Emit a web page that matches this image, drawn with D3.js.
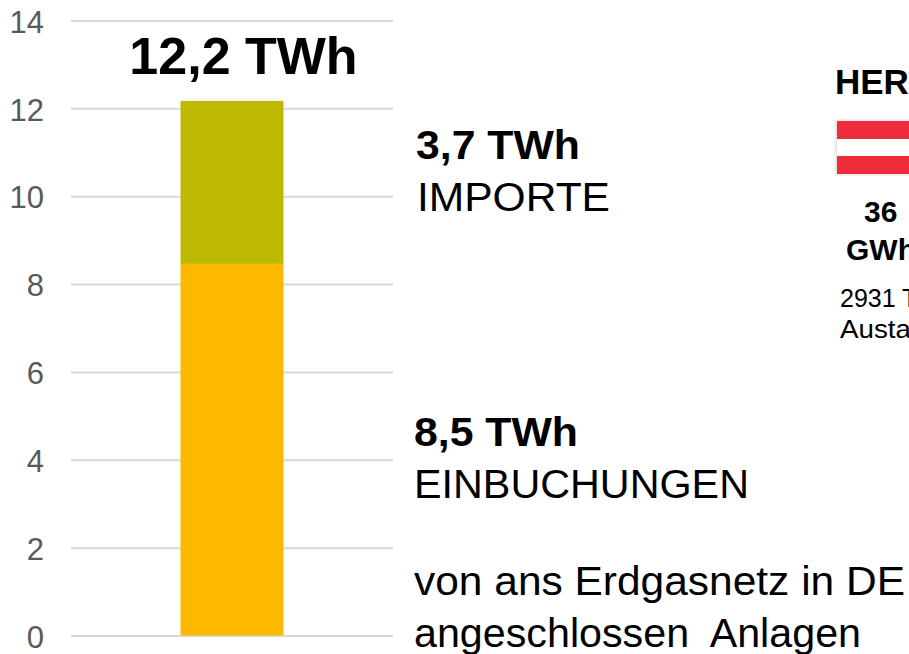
<!DOCTYPE html>
<html><head><meta charset="utf-8">
<script src="https://cdn.jsdelivr.net/npm/d3@7/dist/d3.min.js"></script>
<style>html,body{margin:0;padding:0;background:#fff;overflow:hidden}svg{display:block}text{font-family:"Liberation Sans",Arial,sans-serif}</style>
</head><body><div id="c"></div>
<script>
const yTicks = [0,2,4,6,8,10,12,14];
const categories = ["Gesamt"];
const seriesNames = ["EINBUCHUNGEN","IMPORTE"];
const einbuchungen = [8.46];
const importe = [3.71];
const colors = ["#FDB900","#BDB900"];
const totalLabel = "12,2 TWh";
const noteTexts = ["3,7 TWh","IMPORTE","8,5 TWh","EINBUCHUNGEN","von ans Erdgasnetz in DE","angeschlossen  Anlagen","HER","36","GWh","2931 T","Austa"];
const noteLayout = [
 {x:416,y:159,s:40,b:1,w:164},
 {x:417,y:211,s:40,b:0,w:193},
 {x:414,y:446,s:40,b:1,w:164},
 {x:414,y:498,s:40,b:0,w:335},
 {x:414,y:595,s:40,b:0,w:491},
 {x:414,y:647,s:40,b:0,w:447},
 {x:835,y:94,s:35,b:1},
 {x:864,y:222,s:30,b:1},
 {x:846,y:260,s:30,b:1},
 {x:840,y:307,s:25,b:0},
 {x:840,y:338,s:25,b:0,w:71}
];
const notes = noteTexts.map((t,i)=>({t,...noteLayout[i]}));
const svg = d3.select("#c").append("svg").attr("width",909).attr("height",654);
const defs = svg.append("defs");
defs.append("filter").attr("id","soft").append("feGaussianBlur").attr("stdDeviation",1.2);
const y = d3.scaleLinear().domain([0,14]).range([635.5,20.5]);
const x = d3.scaleBand().domain(categories).range([71,393]).paddingInner(0).paddingOuter(1.063);
const axis = d3.axisLeft(y).tickValues(yTicks).tickSize(-322).tickPadding(27);
const g = svg.append("g").attr("transform","translate(71,0)").call(axis);
g.select(".domain").remove();
g.selectAll(".tick line").attr("stroke","#D9D9D9").attr("stroke-width",2);
g.selectAll(".tick text").attr("fill","#595959").attr("font-size",31).attr("dy","0.38em").attr("font-family","Liberation Sans");
const stack = d3.stack().keys(seriesNames)([{EINBUCHUNGEN:einbuchungen[0],IMPORTE:importe[0]}]);
svg.selectAll("rect.bar").data(stack).enter().append("rect").attr("class","bar")
 .attr("x",x(categories[0])).attr("width",x.bandwidth())
 .attr("y",d=>y(d[0][1])).attr("height",d=>y(d[0][0])-y(d[0][1]))
 .attr("fill",(d,i)=>colors[i]);
svg.append("text").attr("x",243.5).attr("y",74).attr("text-anchor","middle").attr("font-size",52).attr("font-weight","bold").attr("fill","#000").text(totalLabel);
// flag
const flag = svg.append("g");
flag.append("rect").attr("x",835).attr("y",120).attr("width",90).attr("height",55).attr("fill","#e2e2e2").attr("filter","url(#soft)");
flag.append("rect").attr("x",837).attr("y",121).attr("width",80).attr("height",53).attr("fill","#fff");
flag.append("rect").attr("x",837).attr("y",121).attr("width",80).attr("height",18).attr("fill","#EE2C3C");
flag.append("rect").attr("x",837).attr("y",156).attr("width",80).attr("height",18).attr("fill","#EE2C3C");
svg.selectAll("text.a").data(notes).enter().append("text").attr("class","a")
 .attr("x",d=>d.x).attr("y",d=>d.y).attr("font-size",d=>d.s)
 .attr("font-weight",d=>d.b?"bold":"normal").attr("fill","#000").style("white-space","pre")
 .each(function(d){ if(d.w) d3.select(this).attr("textLength",d.w).attr("lengthAdjust","spacingAndGlyphs"); })
 .text(d=>d.t);
</script></body></html>
